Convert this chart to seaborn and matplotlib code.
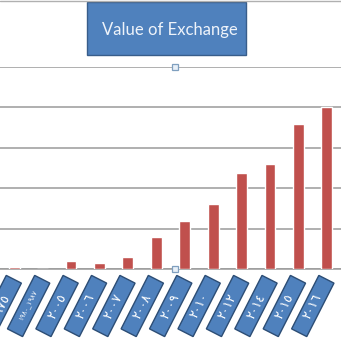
import numpy as np
import pandas as pd
import matplotlib
matplotlib.use("Agg")
import matplotlib.pyplot as plt
import matplotlib.transforms as mtransforms
from matplotlib.patches import Rectangle
import seaborn as sns

# ---- data ----
years = ['١٩٧٥', '١٩٨٠_١٩٨٧', '٢٠٠٥', '٢٠٠٦', '٢٠٠٧', '٢٠٠٨', '٢٠٠٩',
         '٢٠١٠', '٢٠١٢', '٢٠١٤', '٢٠١٥', '٢٠١٦']
values = [0.05, 0.0, 0.2, 0.15, 0.3, 0.79, 1.19, 1.6, 2.37, 2.6, 3.6, 4.0]
title = "Value of Exchange"

sns.set_theme(style="white")
plt.rcParams['font.family'] = ['DejaVu Sans']

W = H = 341
fig = plt.figure(figsize=(W / 100, H / 100), dpi=100)
fig.patch.set_facecolor('white')
ax = fig.add_axes([0, (H - 269) / H, 1, (269 - 67) / H])

df = pd.DataFrame({'year': years, 'value': values})
sns.barplot(data=df, x='year', y='value', order=years, color='#c0504d',
            saturation=1, width=0.38, ax=ax, zorder=3)

ax.set_xlim(-0.196, 10.97)
ax.set_ylim(0, 5)
ax.set_yticks(np.arange(0, 6, 1))
ax.set_yticklabels([])
ax.set_xticks(np.arange(-0.5, len(years), 1))
ax.set_xticklabels([])
ax.set_xlabel('')
ax.set_ylabel('')
ax.tick_params(axis='y', length=0)
ax.tick_params(axis='x', direction='out', length=5, width=1, color='#9a9a9a')
ax.yaxis.grid(True, color='#9a9a9a', linewidth=1.1)
ax.set_axisbelow(True)
for s in ['top', 'left', 'right']:
    ax.spines[s].set_visible(False)
ax.spines['bottom'].set_color('#9a9a9a')
ax.spines['bottom'].set_linewidth(1.1)
ax.set_facecolor('none')

ident = mtransforms.IdentityTransform()

# top border line of chart frame
fig.add_artist(plt.Line2D([0, W], [H - 1, H - 1], transform=ident,
                          color='#b0b0b0', linewidth=1))

# selection handles
for yy in [1.0, 0.0]:
    ax.plot([0.513], [yy], marker='s', markersize=4.5, markerfacecolor='#e8f0f8',
            markeredgecolor='#7f9fbf', markeredgewidth=0.9,
            transform=ax.transAxes, clip_on=False, zorder=5)

# rotated label boxes
L, S, ang = 60, 17, 63
fig.canvas.draw()
for i, lab in enumerate(years):
    px = ax.transData.transform((i, 0))[0]
    cx = px - 14
    cy = H - 306
    rect = Rectangle((cx - L / 2, cy - S / 2), L, S, angle=ang,
                     rotation_point='center', facecolor='#4f81bd',
                     edgecolor='#2c4d75', linewidth=1.0, transform=ident)
    fig.add_artist(rect)
    fs = 5 if len(lab) > 5 else 9
    fig.text(cx, cy, lab, transform=ident, rotation=ang, ha='center',
             va='center', rotation_mode='anchor', color='white', fontsize=fs,
             family='DejaVu Sans')

# title box
tx0, ty0, tx1, ty1 = 87, 2, 246, 55
fig.add_artist(Rectangle((tx0, H - ty1), tx1 - tx0, ty1 - ty0,
                         facecolor='#4f81bd', edgecolor='#385d8a',
                         linewidth=1.0, transform=ident))
fig.text((tx0 + tx1) / 2 + 3, H - (ty0 + ty1) / 2 - 1, title, transform=ident,
         ha='center', va='center', color='#eef3fa', fontsize=12,
         family=['Lato', 'DejaVu Sans'])

fig.savefig('out.png', dpi=100)
